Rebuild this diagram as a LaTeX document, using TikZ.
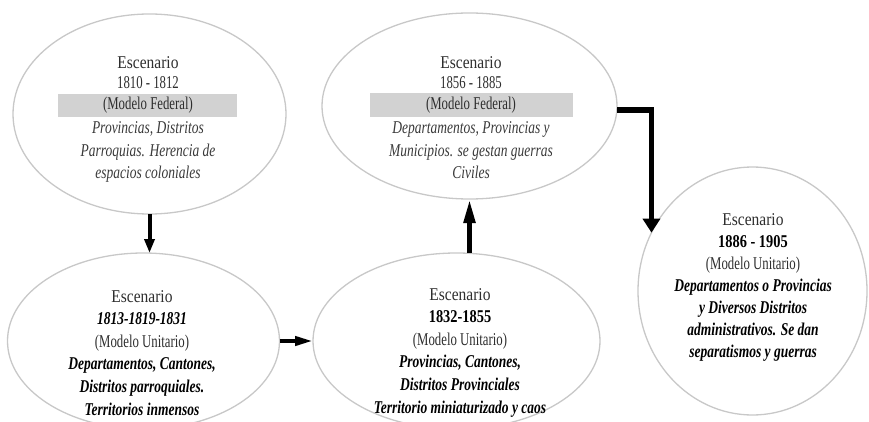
\documentclass[tikz,border=0pt]{standalone}
\usepackage{fontspec}
\setmainfont{Liberation Serif}[FakeStretch=0.71]
\newfontfamily\escf{Liberation Serif}[FakeStretch=0.86]
\newfontfamily\itf{Liberation Serif}[FakeStretch=0.75]
\newfontfamily\yrf{Liberation Serif}[FakeStretch=0.8]
\usetikzlibrary{shapes.geometric,arrows.meta}
\definecolor{ringgray}{HTML}{C8C8C8}
\definecolor{bandgray}{HTML}{D2D2D2}
\definecolor{txtgray}{HTML}{2E2E2E}
\definecolor{itgray}{HTML}{3A3A3A}
\newcommand\esc{{\escf Escenario}}
\newcommand\itl[1]{{\color{itgray}\itf\itshape #1}}
\newcommand\bitl[1]{{\color{black}\itf\bfseries\itshape #1}}
\newcommand\bup[1]{{\color{black}\yrf\bfseries #1}}
\begin{document}
\begin{tikzpicture}[x=1pt,y=-1pt,
  ring/.style={ellipse, draw=ringgray, line width=1.3pt, inner sep=0pt, outer sep=0pt, fill=white},
  band/.style={fill=bandgray, inner sep=0pt, outer sep=0pt},
  txt/.style={align=center, inner sep=0pt, anchor=north, text=txtgray},
  flow/.style={line width=4pt, draw=black},
]
\useasboundingbox (0,0) rectangle (869,422);
\clip (0,0) rectangle (869,422);
% ellipses
\node[ring, minimum width=273pt, minimum height=200pt] (e1) at (149.5,114) {};
\node[ring, minimum width=272pt, minimum height=176pt] (e2) at (143.5,341) {};
\node[ring, minimum width=287pt, minimum height=176pt] (e3) at (456.5,341) {};
\node[ring, minimum width=295pt, minimum height=186pt] (e4) at (469.5,106) {};
\node[ring, minimum width=229pt, minimum height=248pt] (e5) at (752.5,291) {};
% grey bands
\node[band, minimum width=179pt, minimum height=23pt] (b1) at (147.5,105.5) {};
\node[band, minimum width=203pt, minimum height=24pt] (b4) at (471.5,105) {};
% texts
\node[txt, font=\fontsize{18}{22}\selectfont] (t1) at (148,56)
  {\esc\\[-2pt] 1810 - 1812\\[-1pt] (Modelo Federal)\\[2pt]
   \itl{Provincias, Distritos}\\[1pt] \itl{Parroquias. Herencia de}\\ \itl{espacios coloniales}};
\node[txt, font=\fontsize{18}{22}\selectfont] (t4) at (471,56)
  {\esc\\[-2pt] 1856 - 1885\\[-1pt] (Modelo Federal)\\[2pt]
   \itl{Departamentos, Provincias y}\\[1pt] \itl{Municipios. se gestan guerras}\\ \itl{Civiles}};
\node[txt, font=\fontsize{18}{22.6}\selectfont] (t2) at (142,290)
  {\esc\\ \bitl{1813-1819-1831}\\ (Modelo Unitario)\\
   \bitl{Departamentos, Cantones,}\\ \bitl{Distritos parroquiales.}\\ \bitl{Territorios inmensos}};
\node[txt, font=\fontsize{18}{22.6}\selectfont] (t3) at (460,288)
  {\esc\\ \bup{1832-1855}\\ (Modelo Unitario)\\
   \bitl{Provincias, Cantones,}\\ \bitl{Distritos Provinciales}\\ \bitl{Territorio miniaturizado y caos}};
\node[txt, font=\fontsize{18}{22}\selectfont] (t5) at (753,213)
  {\esc\\ \bup{1886 - 1905}\\ (Modelo Unitario)\\
   \bitl{Departamentos o Provincias}\\ \bitl{y Diversos Distritos}\\ \bitl{administrativos. Se dan}\\ \bitl{separatismos y guerras}};
% connectors
\draw[flow, -{Triangle[length=14pt,width=10pt]}] (e1.south) -- (e1.south |- e2.north);
\draw[flow, -{Triangle[length=18pt,width=9pt]}] (e2.east) -- (e3.west);
\draw[flow, line width=5pt, -{Triangle[length=24pt,width=11pt]}] (e4.south |- e3.north) -- (e4.south);
\draw[flow, line width=5.5pt, -{Triangle[length=14pt,width=17pt]}] ([yshift=-4pt]e4.east) -| (e5.150);
\end{tikzpicture}
\end{document}
